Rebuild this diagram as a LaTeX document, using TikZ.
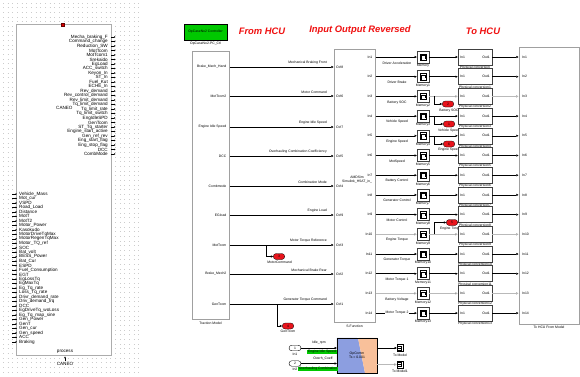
\documentclass[tikz,border=0pt]{standalone}
\usepackage{fontspec}
\setmainfont{Liberation Sans}
\usetikzlibrary{arrows.meta,shapes.misc}
\definecolor{tagred}{HTML}{E8141C}
\definecolor{sgreen}{HTML}{00C800}
\definecolor{opblue}{HTML}{8C9EE0}
\definecolor{oporange}{HTML}{F8C09A}
\definecolor{titlered}{HTML}{F01010}
\definecolor{blkgray}{HTML}{A0A0A0}
\begin{document}
\begin{tikzpicture}[x=1pt,y=-1pt,
 sz/.style={font=\fontsize{3.4}{3.9}\selectfont, inner sep=0pt},
 lb/.style={font=\fontsize{4.6}{4.6}\selectfont, inner sep=0pt},
 ttl/.style={font=\fontsize{9.4}{10}\selectfont\bfseries\itshape, text=titlered, inner sep=0pt},
 sig/.style={line width=0.45pt, -{Triangle[length=2.2pt,width=2.2pt]}},
 gsig/.style={line width=0.9pt, draw=gray!55, -{Triangle[length=2.4pt,width=2.4pt,fill=black]}},
 port/.style={line width=0.4pt, -{Triangle[length=1.4pt,width=1.5pt]}},
 blk/.style={draw=blkgray, line width=1.1pt, fill=white, inner sep=0pt, anchor=north west},
 memb/.style={draw=black!75, fill=white, line width=0.45pt, minimum width=12pt, minimum height=12pt, inner sep=0pt},
 physb/.style={draw=black!75, fill=white, line width=0.5pt, minimum width=34pt, minimum height=16pt, inner sep=0pt},
 tagb/.style={rounded rectangle, draw=black, line width=0.3pt, fill=tagred, minimum width=11.5pt, minimum height=6pt, inner sep=0pt, font=\fontsize{3.4}{3.9}\selectfont},
 greenlbl/.style={fill=sgreen, inner sep=0.4pt, font=\fontsize{3.4}{3.9}\selectfont},
]
\useasboundingbox (0,0) rectangle (580,376);
\fill[white] (0,0) rectangle (580,376);
% grid of dots (left panel)
\foreach \k in {0,...,79}{
  \draw[gray!40, line width=0.8pt, dash pattern=on 0.8pt off 3.87pt] (3,{3+4.67*\k}) -- (140,{3+4.67*\k});
}
% ---------------- left block
\node[blk, draw=gray!65, minimum width=95pt, minimum height=331pt] (proc) at (16,24) {};
\node[fill=red!85!black, draw=red!40!black, line width=0.3pt, minimum size=3pt, inner sep=0pt] (mark) at (63,24.5) {};
\foreach \t [count=\i] in {Mecha\_braking\_F, Command\_change, Reduction\_SW, MotTcom, MotTcom1, Srekaido, EgLoad, ACC\_switch, Keyon\_In, ST\_In, Fuel\_Kut, ECHE\_In, Rev\_demand, Rev\_control\_demand, Rev\_limit\_demand, Tq\_limit\_demand, Tq\_limit\_rate, Tq\_limit\_switch, EngIdleSPD, GenTcom, ST\_Tq\_starter, Engine\_start\_active, Gen\_ref\_rev, Eng\_start\_flag, Eng\_stop\_flag, DCC, CombMode}{
  \node[lb, anchor=east] (po\i) at (108,{37+4.5*(\i-1)}) {\t};
  \draw[port] (111,{37+4.5*(\i-1)}) -- (115.5,{37+4.5*(\i-1)});
}
\node[lb, anchor=west] (caneo1) at (56,108) {CANEO};
\foreach \t [count=\i] in {Vehicle\_Mass, Mot\_cur, VSPD, Road\_Load, Distance, MotT, MotT2, Motor\_Power, Kasokudo, MotorDriveTqMax, MotorRegenTqMax, Motor\_TQ\_ref, SOC, Bat\_volt, BESS\_Power, Bat\_Cur, ESPD, Fuel\_Consumption, EGT, EgLossTq, EgMaxTq, Eg\_Tq\_rate, Loss\_Tq\_rate, Drivr\_demand\_rate, Driv\_demand\_trq, DCC, EgDriveTq\_woLoss, Eg\_Tq\_map\_sine, Gen\_Power, GenT, Gen\_cur, Gen\_speed, ACC, Braking}{
  \node[lb, anchor=west] (pi\i) at (19,{194+4.48*(\i-1)}) {\t};
  \draw[port] (12,{194+4.48*(\i-1)}) -- (17,{194+4.48*(\i-1)});
}
\node[lb] (proclbl) at (65,352) {process};
\draw[port] (65,361) -- (65,356.5);
\node[lb] (caneo2) at (65,364) {CANEO};
% ---------------- titles
\node[ttl] (t1) at (262,31) {From HCU};
\node[ttl] (t2) at (360,30) {Input Output Reversed};
\node[ttl] (t3) at (483,31) {To HCU};
% green controller block
\node[draw=black, fill=sgreen, line width=0.4pt, minimum width=43pt, minimum height=16pt, sz] (gc) at (205.5,32) {OpCaseNo2 Controller};
\node[sz] (gcl) at (205.5,43.5) {OpCaseNo2-PC\_Ctl};
% ---------------- traction model and S-function
\node[blk, minimum width=37pt, minimum height=268pt] (trm) at (192,51) {};
\node[sz] (trml) at (210.5,323.5) {Traction Model};
\node[blk, minimum width=41pt, minimum height=273pt] (sf) at (334,49) {};
\node[sz] (sfl) at (354.5,326) {S-Function};
\node[sz, align=center] (sft) at (357,180) {AMDSim\\Simulink\_HSAT\_in\_};
\foreach \r/\a/\b/\c [count=\i] in {67/Brake\_Mech\_Hand/Mechanical Braking Front/Ctrl8, 96/MotTcom2/Motor Command/Ctrl6, 127/Engine Idle Speed/Engine Idle Speed/Ctrl7, 156/DCC/Overhauling Combination Coefficiency/Ctrl5, 186/Combmode/Combination Mode/Ctrl4, 215/EGload/Engine Load/Ctrl9, 245/MotTcom/Motor Torque Reference/Ctrl3, 274/Brake\_Mech2/Mechanical Brake Rear/Ctrl2, 304/GenTcom/Generator Torque Command/Ctrl1}{
  \coordinate (tmo\i) at (229.5,\r);
  \coordinate (sfi\i) at (333.5,\r);
  \draw[sig] (tmo\i) -- (sfi\i);
  \node[sz, anchor=east] (tml\i) at (226.5,\r) {\a};
  \node[sz, anchor=south east] (lnl\i) at (327,{\r-2.2}) {\b};
  \node[sz, anchor=west] (sfin\i) at (336,\r) {\c};
}
% goto tags on traction lines
\node[tagb] (tgA) at (279,256.5) {3};
\node[sz] (tgAl) at (279.5,262.5) {MotorCommand};
\coordinate (brA) at (266,245);
\draw[sig] (brA) |- (tgA.west);
\node[tagb] (tgB) at (288,326) {4};
\node[sz] (tgBl) at (288,331.8) {GenTcom};
\coordinate (brB) at (277,304);
\draw[sig] (brB) |- (tgB.west);
% ---------------- outputs
\node[blk, minimum width=60pt, minimum height=277pt] (hcu) at (519,47) {};
\node[sz] (hcul) at (549,327.5) {To HCU From Model};
% tags on memory outputs (drawn before conversion blocks)
\node[tagb] (tgC) at (448,104) {2};
\node[sz] (tgCl) at (449,110.5) {Battery SOC};
\node[tagb] (tgD) at (449,124) {1};
\node[sz] (tgDl) at (449,130.3) {Vehicle Speed};
\node[tagb] (tgE) at (449,144) {6};
\node[sz] (tgEl) at (449,150) {Engine Speed};
\node[tagb] (tgF) at (452,222.5) {5};
\node[sz] (tgFl) at (451,228.5) {Engine Torque};
\foreach \lab/\g/\h [count=\i] in {Driver Acceleration/0/0, Driver Brake/0/0, Battery SOC/0/1, Vehicle Speed/0/0, Engine Speed/0/0, MotSpeed/0/0, Battery Control/0/0, Generator Control/0/0, Motor Control/0/0, Engine Torque/1/1, Generator Torque/0/0, Motor Torque 1/0/0, Battery Voltage/1/1, Motor Torque 2/0/0}{
  \pgfmathsetmacro\oy{57+19.7*(\i-1)}
  \pgfmathtruncatemacro\j{\i-1}
  \coordinate (sfo\i) at (375.5,\oy);
  \node[sz, anchor=east] (sfon\i) at (372.5,\oy) {In\i};
  \node[memb] (mem\i) at (423,\oy) {};
  \draw[line width=0.4pt] (419.8,{\oy+3.2}) -- (419.8,{\oy-3.2}) -- (426.2,{\oy-3.2}) -- (426.2,{\oy+3.2}) -- cycle;
  \draw[line width=0.4pt] (421.3,{\oy+3.2}) -- (421.3,{\oy-1.6}) -- (424.7,{\oy-1.6}) -- (424.7,{\oy+1.5});
  \node[sz] (meml\i) at (423,{\oy+9}) {Memory\ifnum\i>1 \j\fi};
  \node[physb] (ph\i) at (475,\oy) {};
  \node[sz, anchor=west] (phi\i) at (460,\oy) {In1};
  \node[sz, anchor=east] (pho\i) at (490,\oy) {Out1};
  \node[sz] (phl\i) at (475,{\oy+10.6}) {Physical conversion\ifnum\i>1 \j\fi};
  \coordinate (hin\i) at (518.5,\oy);
  \node[sz, anchor=west] (hinl\i) at (522,\oy) {In\i};
  \ifnum\g=1 \draw[gsig] (sfo\i) -- (mem\i.west); \else \draw[sig] (sfo\i) -- (mem\i.west); \fi
  \ifnum\h=1 \draw[gsig] (mem\i.east) -- (ph\i.west); \draw[gsig] (ph\i.east) -- (hin\i);
  \else \draw[sig] (mem\i.east) -- (ph\i.west); \draw[sig] (ph\i.east) -- (hin\i); \fi
  \ifnum\i=14
    \node[sz, fill=white, inner sep=0.3pt] (rl\i) at (397,\oy) {\lab};
  \else
    \node[sz] (rl\i) at (397,{\oy+5.8}) {\lab};
  \fi
}
\coordinate (brC) at (434,96.4);
\draw[sig] (brC) |- (tgC.west);
\coordinate (brD) at (434,116.1);
\draw[sig] (brD) |- (tgD.west);
\coordinate (brE) at (434,135.8);
\draw[sig] (brE) |- (tgE.west);
\coordinate (brF) at (434,234.3);
\draw[sig] (brF) |- (tgF.west);
% ---------------- OpComm
\node[minimum width=40pt, minimum height=35pt, inner sep=0pt] (opb) at (357,355.5) {};
\fill[opblue] (opb.north west) -- (358,338) -- (365,373) -- (opb.south west) -- cycle;
\fill[oporange] (358,338) -- (opb.north east) -- (opb.south east) -- (365,373) -- cycle;
\draw[line width=0.5pt] (opb.north west) rectangle (opb.south east);
\node[sz, align=center] (opt) at (357,355) {OpComm\\Ts = 0.001};
\node[rounded rectangle, draw, line width=0.4pt, minimum width=12pt, minimum height=5.5pt, inner sep=0pt, sz] (ip1) at (295,348) {1};
\node[sz] (ip1l) at (295,354) {In1};
\node[rounded rectangle, draw, line width=0.4pt, minimum width=12pt, minimum height=5.5pt, inner sep=0pt, sz] (ip2) at (295,363.5) {2};
\node[sz] (ip2l) at (295,369.5) {In2};
\draw[sig] (ip1.east) -- (ip1.east -| opb.west);
\draw[sig] (ip2.east) -- (ip2.east -| opb.west);
\node[sz] (l1) at (319,342.5) {Idle\_rpm};
\node[sz] (l2) at (323,358.5) {Overh\_Coeff};
\node[greenlbl, minimum width=30pt] (g1) at (322,352) {Engine Idle Speed};
\node[greenlbl, minimum width=38pt] (g2) at (318,369) {Overhauling Combination};
\node[draw, line width=0.4pt, fill=white, minimum width=6pt, minimum height=7pt, inner sep=0pt] (tz1) at (400,348) {};
\node[draw, line width=0.4pt, fill=white, minimum width=6pt, minimum height=7pt, inner sep=0pt] (tz2) at (400,364.5) {};
\foreach \ty in {348,364.5}{
  \draw[line width=0.3pt] (398.3,{\ty-2}) -- (401.3,{\ty-2}) -- (401.3,{\ty+2}) -- (398.3,{\ty+2});
  \draw[line width=0.3pt] (398.3,\ty) -- (401.3,\ty);
}
\node[sz] (tz1l) at (400,355) {To Model};
\node[sz] (tz2l) at (400,371.5) {To Model1};
\draw[sig] (opb.east |- tz1) -- (tz1.west);
\draw[gsig] (opb.east |- tz2) -- (tz2.west);
\end{tikzpicture}
\end{document}
